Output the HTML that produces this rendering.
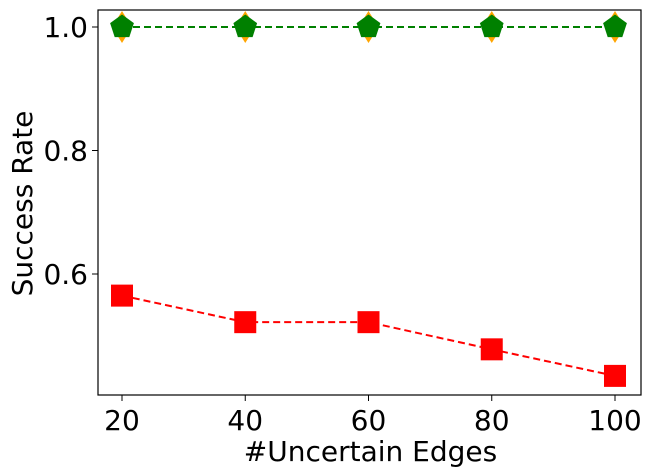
<!DOCTYPE html>
<html><head><meta charset="utf-8"><style>body{margin:0;background:#fff}svg{display:block}text{font-family:"DejaVu Sans","Liberation Sans",sans-serif;fill:#000}</style></head>
<body>
<svg id="c" width="651" height="476"></svg>
<script>
const categories=[20,40,60,80,100];
const seriesRed=[0.565,0.522,0.522,0.478,0.435];
const seriesOrange=[1,1,1,1,1];
const seriesGreen=[1,1,1,1,1];
const yTicks=[0.6,0.8,1.0];
const yTickLabels=["0.6","0.8","1.0"];
const xTickLabels=["20","40","60","80","100"];
const L=98,R=641,T=10,B=395;
const x=v=>122+(v-20)*(615-122)/80;
const y=v=>27+(1-v)*(274-27)/0.4;
const svg=document.getElementById('c');
const NS='http://www.w3.org/2000/svg';
function el(t,a,p){const e=document.createElementNS(NS,t);for(const k in a)e.setAttribute(k,a[k]);(p||svg).appendChild(e);return e;}
const plot=el('rect',{x:L,y:T,width:R-L,height:B-T,fill:'none',stroke:'#000','stroke-width':1.2});


yTicks.forEach((v,i)=>{
  const t=el('line',{x1:L-6,x2:L,y1:y(v),y2:y(v),stroke:'#000'});
  
  
  const tx=el('text',{x:L-10,y:y(v)+10,'text-anchor':'end','font-size':28});
  tx.textContent=yTickLabels[i];
  
  
});
categories.forEach((v,i)=>{
  const t=el('line',{x1:x(v),x2:x(v),y1:B,y2:B+6,stroke:'#000'});
  
  
  const tx=el('text',{x:x(v),y:B+35,'text-anchor':'middle','font-size':28});
  tx.textContent=xTickLabels[i];
  
  
});
const xt=el('text',{x:(L+R)/2+1,y:461,'text-anchor':'middle','font-size':28});
xt.textContent='#Uncertain Edges';


const yt=el('text',{x:0,y:0,'text-anchor':'middle','font-size':28,transform:`translate(32,${(T+B)/2+1}) rotate(-90)`});
yt.textContent='Success Rate';


function line(vals,color,name){
  const p=el('polyline',{points:vals.map((v,i)=>x(categories[i])+','+y(v)).join(' '),fill:'none',stroke:color,'stroke-width':2,'stroke-dasharray':'7,4'});
  
  
}
line(seriesRed,'#ff0000','red-series-line');
line(seriesOrange,'#ffa500','orange-series-line');
line(seriesGreen,'#008000','green-series-line');
seriesRed.forEach((v,i)=>{
  const m=el('rect',{x:x(categories[i])-11,y:y(v)-11,width:22,height:22,fill:'#ff0000'});
  
  
});
seriesOrange.forEach((v,i)=>{
  const cx=x(categories[i]),cy=y(v);
  const m=el('polygon',{points:`${cx},${cy-16} ${cx+10},${cy} ${cx},${cy+16} ${cx-10},${cy}`,fill:'#ffa500'});
  
  
});
seriesGreen.forEach((v,i)=>{
  const cx=x(categories[i]),cy=y(v),r=12.5;
  const pts=[];for(let k=0;k<5;k++){const a=-Math.PI/2+k*2*Math.PI/5;pts.push((cx+r*Math.cos(a)).toFixed(1)+','+(cy+r*Math.sin(a)).toFixed(1));}
  const m=el('polygon',{points:pts.join(' '),fill:'#008000'});
  
  
});
</script>
</body></html>
